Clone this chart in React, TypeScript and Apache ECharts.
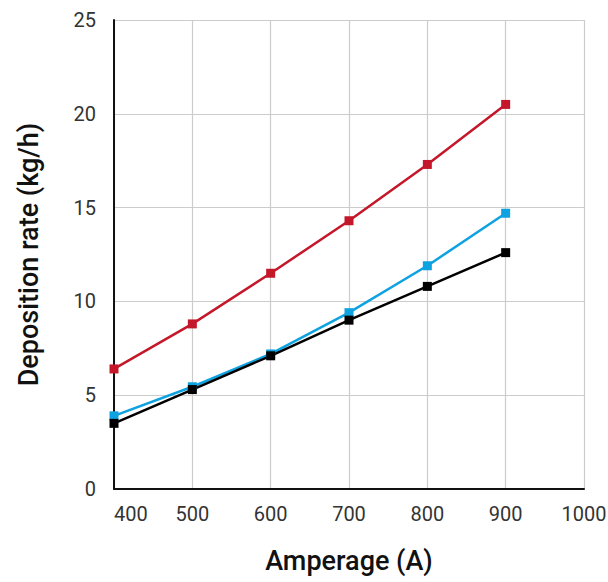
import React, { useEffect, useRef } from "react";
import * as echarts from "echarts";

const amperage = [400, 500, 600, 700, 800, 900];
const redSeries = [6.4, 8.8, 11.5, 14.3, 17.3, 20.5];
const blueSeries = [3.9, 5.45, 7.2, 9.4, 11.9, 14.7];
const blackSeries = [3.5, 5.3, 7.1, 9.0, 10.8, 12.6];

const FONT = "Roboto, 'Open Sans', sans-serif";

function pairs(ys: number[]) {
  return amperage.map((x, i) => [x, ys[i]]);
}

export default function App() {
  const ref = useRef<HTMLDivElement>(null);
  useEffect(() => {
    if (!ref.current) return;
    const chart = echarts.init(ref.current, null, { renderer: "svg" });
    const mk = (name: string, color: string, data: number[]) => ({
      name,
      type: "line",
      data: pairs(data),
      symbol: "rect",
      symbolSize: 9,
      lineStyle: { color, width: 2.5 },
      itemStyle: { color },
      z: 3,
    });
    chart.setOption({
      animation: false,
      backgroundColor: "#ffffff",
      grid: {
        left: 114,
        right: 24,
        top: 20,
        bottom: 93,
        containLabel: false,
        outerBoundsMode: "none",
      },
      xAxis: {
        type: "value",
        min: 400,
        max: 1000,
        interval: 100,
        name: "Amperage (A)",
        nameLocation: "middle",
        nameGap: 58,
        nameTextStyle: { fontFamily: FONT, fontSize: 27, fontWeight: 500, color: "#111" },
        axisLine: { show: true, lineStyle: { color: "#111", width: 2 } },
        axisTick: { show: false },
        axisLabel: {
          fontFamily: FONT,
          fontSize: 20,
          color: "#333",
          margin: 15,
          alignMinLabel: "left",
          formatter: (v: number) => String(v),
        },
        splitLine: { show: true, lineStyle: { color: "#cccccc", width: 1.2 } },
      },
      yAxis: {
        type: "value",
        min: 0,
        max: 25,
        interval: 5,
        name: "Deposition rate (kg/h)",
        nameLocation: "middle",
        nameGap: 72,
        nameTextStyle: { fontFamily: FONT, fontSize: 27, fontWeight: 500, color: "#111" },
        axisLine: { show: true, lineStyle: { color: "#111", width: 2 } },
        axisTick: { show: false },
        axisLabel: { fontFamily: FONT, fontSize: 20, color: "#333", margin: 18 },
        splitLine: { show: true, lineStyle: { color: "#cccccc", width: 1.2 } },
      },
      series: [
        mk("Red", "#c4182a", redSeries),
        mk("Blue", "#0ea2e0", blueSeries),
        mk("Black", "#000000", blackSeries),
      ],
    });
    return () => chart.dispose();
  }, []);
  return (
    <div
      ref={ref}
      style={{ position: "fixed", left: 0, top: 0, width: 608, height: 582 }}
    />
  );
}
